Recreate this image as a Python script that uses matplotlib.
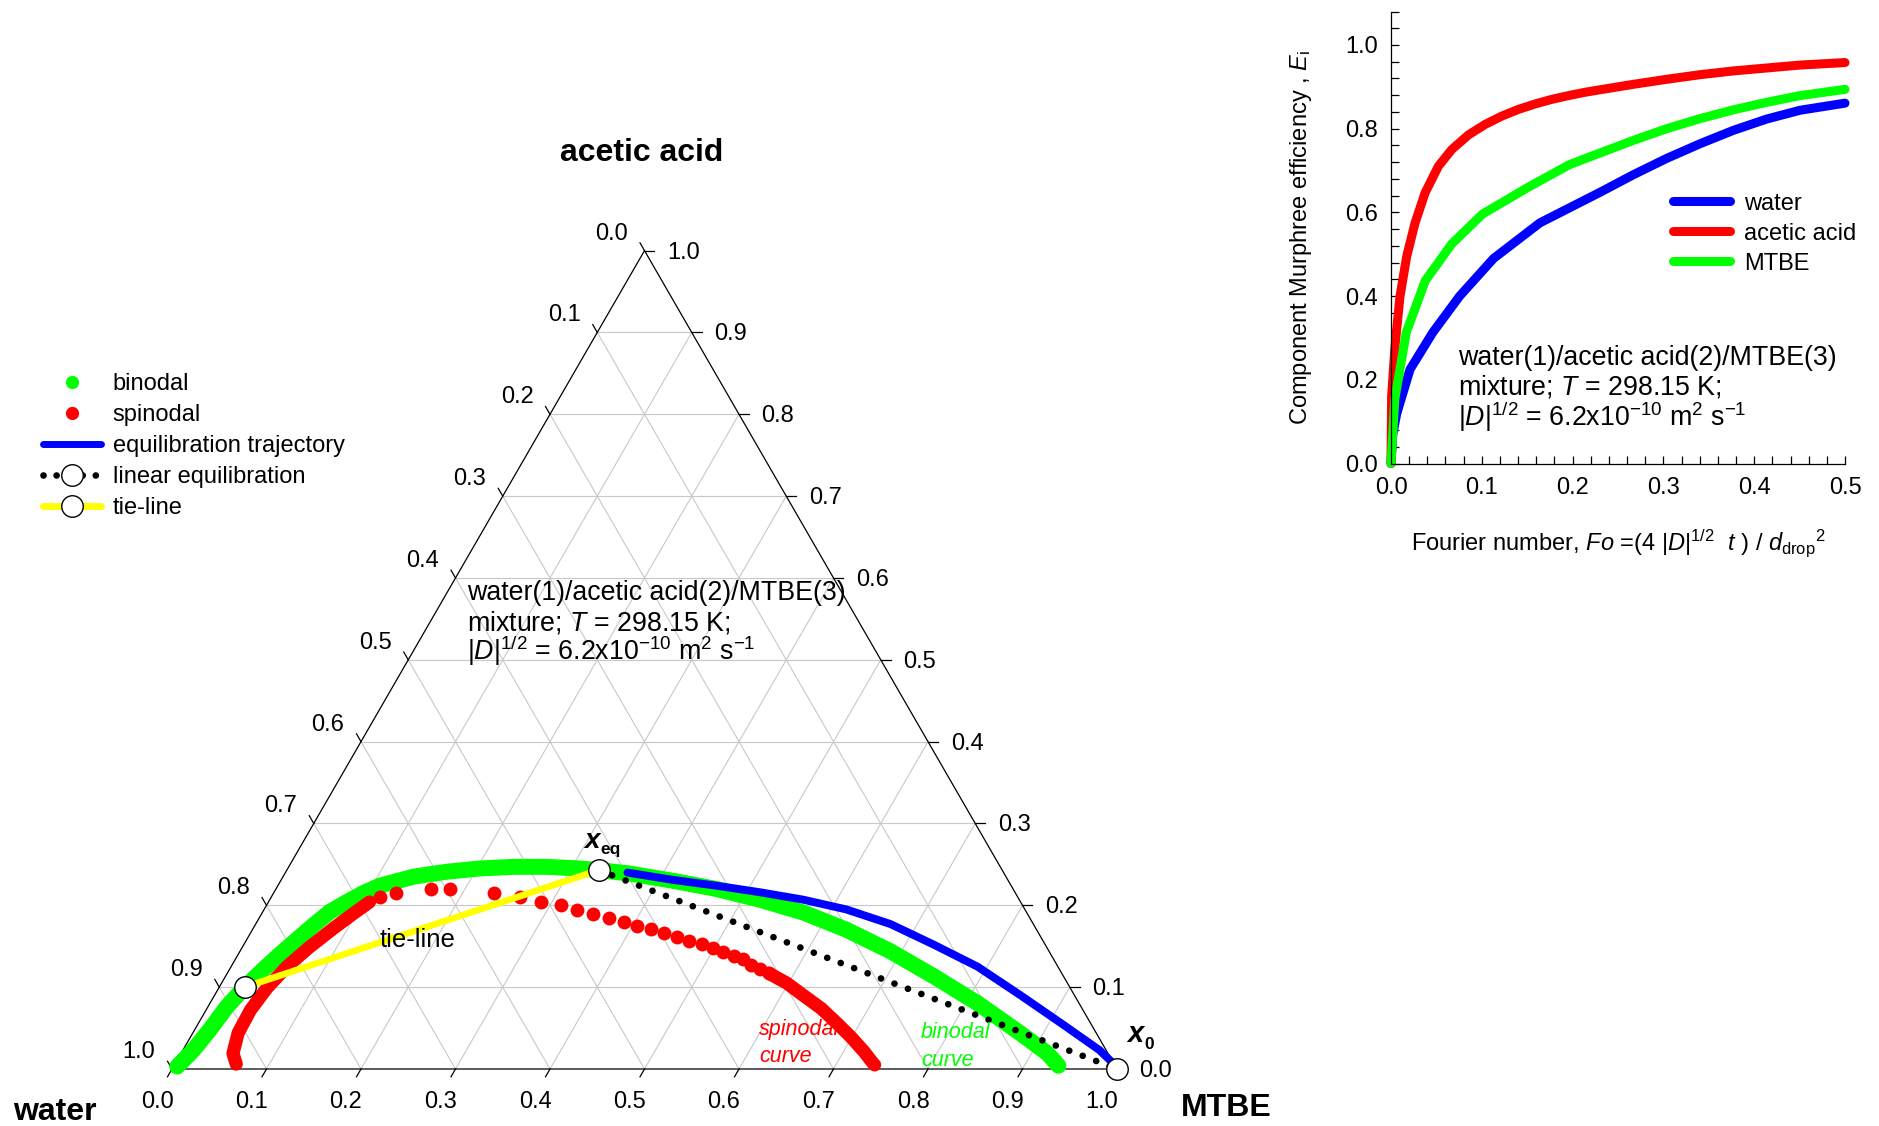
import numpy as np
import matplotlib.pyplot as plt
from matplotlib.lines import Line2D
from matplotlib.ticker import MultipleLocator, FormatStrFormatter

plt.rcParams['font.family'] = ['Liberation Sans', 'DejaVu Sans']
plt.rcParams['mathtext.fontset'] = 'custom'
plt.rcParams['mathtext.rm'] = 'Liberation Sans'
plt.rcParams['mathtext.it'] = 'Liberation Sans:italic'
plt.rcParams['mathtext.bf'] = 'Liberation Sans:bold'
plt.rcParams['mathtext.default'] = 'regular'

W, H = 1879, 1126
# triangle placement in pixels: lower-left vertex and side length
X0PX, Y0PX, SIDE = 172, 1069, 945

# ---- ternary data: x3 = MTBE, x2 = acetic acid ----
binodal_x3 = [0.004, 0.011, 0.016, 0.020, 0.027, 0.036, 0.044, 0.053, 0.062, 0.071,
              0.083, 0.095, 0.108, 0.138, 0.170, 0.203, 0.238, 0.273, 0.309, 0.330,
              0.364, 0.415, 0.466, 0.518, 0.573, 0.629, 0.688, 0.750, 0.813, 0.877,
              0.917, 0.936]
binodal_x2 = [0.003, 0.023, 0.048, 0.076, 0.100, 0.122, 0.140, 0.158, 0.176, 0.192,
              0.204, 0.215, 0.224, 0.235, 0.241, 0.245, 0.247, 0.247, 0.245, 0.243,
              0.239, 0.230, 0.220, 0.207, 0.191, 0.170, 0.144, 0.113, 0.080, 0.043,
              0.019, 0.004]

# spinodal: dense branch near water, separate points, dense branch near MTBE
spin_left_x3 = [0.065, 0.055, 0.048, 0.047, 0.051, 0.059, 0.071, 0.085, 0.097, 0.107]
spin_left_x2 = [0.006, 0.019, 0.044, 0.072, 0.099, 0.125, 0.149, 0.172, 0.190, 0.204]
spin_pts_x3 = [0.115, 0.130, 0.164, 0.184, 0.233, 0.263, 0.289, 0.312, 0.332, 0.351,
               0.370, 0.388, 0.405, 0.421, 0.438, 0.454, 0.469, 0.484, 0.498, 0.512,
               0.526, 0.537, 0.549, 0.561, 0.573]
spin_pts_x2 = [0.210, 0.215, 0.220, 0.220, 0.215, 0.210, 0.204, 0.200, 0.194, 0.189,
               0.185, 0.180, 0.175, 0.171, 0.166, 0.161, 0.157, 0.153, 0.148, 0.143,
               0.138, 0.134, 0.127, 0.122, 0.117]
spin_right_x3 = [0.573, 0.598, 0.623, 0.650, 0.677, 0.699, 0.722, 0.736, 0.741]
spin_right_x2 = [0.117, 0.105, 0.090, 0.074, 0.055, 0.039, 0.021, 0.009, 0.005]

traj_x3 = [0.362, 0.415, 0.464, 0.514, 0.564, 0.616, 0.672, 0.730, 0.790, 0.853,
           0.918, 0.970, 0.991, 1.0]
traj_x2 = [0.240, 0.231, 0.224, 0.216, 0.207, 0.195, 0.177, 0.152, 0.125, 0.090,
           0.053, 0.023, 0.008, 0.0]

xeq = (0.330, 0.243)
xtie = (0.027, 0.100)
x0 = (1.0, 0.0)

# ---- Murphree efficiencies vs Fourier number ----
fo_water = [0, 0.002, 0.0063, 0.021, 0.046, 0.0756, 0.113, 0.164, 0.2302, 0.2669,
            0.3036, 0.3403, 0.377, 0.4137, 0.4504, 0.5]
E_water = [0, 0.07, 0.119, 0.225, 0.313, 0.40, 0.49, 0.575, 0.648, 0.690,
           0.729, 0.764, 0.796, 0.823, 0.844, 0.861]
fo_acid = [0, 0.0007, 0.0044, 0.0099, 0.0173, 0.0264, 0.0374, 0.0521, 0.0668, 0.0852,
           0.1035, 0.1219, 0.1402, 0.1586, 0.177, 0.1953, 0.2137, 0.2302, 0.2669, 0.3036,
           0.3403, 0.377, 0.4137, 0.4504, 0.5]
E_acid = [0, 0.161, 0.280, 0.399, 0.495, 0.574, 0.646, 0.710, 0.750, 0.785,
          0.810, 0.830, 0.846, 0.859, 0.870, 0.879, 0.887, 0.893, 0.906, 0.918,
          0.929, 0.938, 0.945, 0.952, 0.958]
fo_mtbe = [0, 0.0042, 0.0168, 0.0378, 0.067, 0.1008, 0.151, 0.1964, 0.2302, 0.2669,
           0.3036, 0.3403, 0.377, 0.4137, 0.4504, 0.5]
E_mtbe = [0, 0.154, 0.313, 0.437, 0.525, 0.596, 0.660, 0.714, 0.742, 0.772,
          0.800, 0.824, 0.845, 0.863, 0.879, 0.894]

GREEN, RED, BLUE, YELLOW = '#00ff00', '#ff0000', '#0000ff', '#ffff00'
S3 = np.sqrt(3) / 2


def tern(x3, x2):
    x3 = np.asarray(x3, float)
    x2 = np.asarray(x2, float)
    return x3 + x2 / 2, x2 * S3


def pxd(dx, dy):
    # pixel offset -> ternary axes units (dy positive = up)
    return dx / SIDE, dy / SIDE


fig = plt.figure(figsize=(W / 100, H / 100), dpi=100)
ax = fig.add_axes([0, 0, 1, 1])
ax.set_xlim(-X0PX / SIDE, (W - X0PX) / SIDE)
ax.set_ylim(-(H - Y0PX) / SIDE, Y0PX / SIDE)
ax.axis('off')

# grid
for k in range(1, 10):
    f = k / 10
    for a, b in [((0, f), (1 - f, f)), ((f, 0), (f, 1 - f)), ((1 - f, 0), (0, 1 - f))]:
        xs, ys = tern([a[0], b[0]], [a[1], b[1]])
        ax.plot(xs, ys, color='#c8c8c8', lw=0.8, zorder=1)

xs, ys = tern([0, 1, 0, 0], [0, 0, 1, 0])
ax.plot(xs, ys, color='black', lw=0.9, zorder=2)

# ticks and tick labels on the three sides
L = 9 / SIDE
fs_tick = 17
for k in range(11):
    f = k / 10
    lab = f'{f:.1f}'
    bx, by = tern(f, 0)
    ax.plot([bx, bx - 0.5 * L], [by, by - S3 * L], color='black', lw=0.9)
    ox, oy = pxd(-15, -33)
    ax.text(bx + ox, by + oy, lab, ha='center', va='center', fontsize=fs_tick)
    lx, ly = tern(0, 1 - f)
    ax.plot([lx, lx - 0.5 * L], [ly, ly + S3 * L], color='black', lw=0.9)
    ox, oy = pxd(-33, 17)
    ax.text(lx + ox, ly + oy, lab, ha='center', va='center', fontsize=fs_tick)
    rx, ry = tern(1 - f, f)
    ax.plot([rx, rx + L * 1.1], [ry, ry], color='black', lw=0.9)
    ox, oy = pxd(39, -2)
    ax.text(rx + ox, ry + oy, lab, ha='center', va='center', fontsize=fs_tick)

# curves
bx, by = tern(binodal_x3, binodal_x2)
ax.plot(bx, by, color=GREEN, lw=11.5, solid_capstyle='round', solid_joinstyle='round', zorder=3)
sx, sy = tern(spin_left_x3, spin_left_x2)
ax.plot(sx, sy, color=RED, lw=9.5, solid_capstyle='round', solid_joinstyle='round', zorder=4)
sx, sy = tern(spin_right_x3, spin_right_x2)
ax.plot(sx, sy, color=RED, lw=9.5, solid_capstyle='round', solid_joinstyle='round', zorder=4)
sx, sy = tern(spin_pts_x3, spin_pts_x2)
ax.plot(sx, sy, 'o', color=RED, ms=10, mew=0, zorder=4)

ex, ey = tern([xeq[0], x0[0]], [xeq[1], x0[1]])
ax.plot(ex, ey, color='black', lw=4.8, dashes=(0.01, 2.15), dash_capstyle='round', zorder=5)
tx, ty = tern(traj_x3, traj_x2)
ax.plot(tx, ty, color=BLUE, lw=5.7, solid_capstyle='round', zorder=6)
yx, yy = tern([xtie[0], xeq[0]], [xtie[1], xeq[1]])
ax.plot(yx, yy, color=YELLOW, lw=4.8, solid_capstyle='butt', zorder=7)

cx, cy = tern([xtie[0], xeq[0], x0[0]], [xtie[1], xeq[1], x0[1]])
ax.plot(cx, cy, 'o', ms=15.5, mfc='white', mec='black', mew=1.0, zorder=8, clip_on=False)


def ptext(x, y, s, **kw):
    # place text at figure pixel position (origin top-left)
    fig.text(x / W, 1 - y / H, s, **kw)


ptext(642, 153, 'acetic acid', ha='center', va='center', fontsize=23, fontweight='bold')
ptext(55, 1112, 'water', ha='center', va='center', fontsize=23, fontweight='bold')
ptext(1226, 1108, 'MTBE', ha='center', va='center', fontsize=23, fontweight='bold')

ptext(592, 848, 'x', ha='center', va='baseline', fontsize=20, fontweight='bold', style='italic')
ptext(600, 854, 'eq', ha='left', va='baseline', fontsize=12.5, fontweight='bold')
ptext(1135, 1042, 'x', ha='center', va='baseline', fontsize=21, fontweight='bold', style='italic')
ptext(1144, 1049, '0', ha='left', va='baseline', fontsize=12.5, fontweight='bold')

ptext(418, 940, 'tie-line', ha='center', va='center', fontsize=18.5)
ptext(759, 1030, 'spinodal', ha='left', va='center', fontsize=15.5, color=RED, style='italic')
ptext(759, 1057, 'curve', ha='left', va='center', fontsize=15.5, color=RED, style='italic')
ptext(921, 1033, 'binodal', ha='left', va='center', fontsize=15.5, color=GREEN, style='italic')
ptext(921, 1060, 'curve', ha='left', va='center', fontsize=15.5, color=GREEN, style='italic')

info = ['water(1)/acetic acid(2)/MTBE(3)',
        r'mixture; $\mathit{T}$ = 298.15 K;',
        r'|$\mathit{D}$|$^{1/2}$ = 6.2x10$^{-10}$ m$^{2}$ s$^{-1}$']
for line, yb in zip(info, [600, 630, 660]):
    ptext(467, yb, line, ha='left', va='baseline', fontsize=19.3)

# legend of the ternary diagram
handles = [
    Line2D([], [], ls='none', marker='o', ms=9.5, color=GREEN, mew=0),
    Line2D([], [], ls='none', marker='o', ms=9.5, color=RED, mew=0),
    Line2D([], [], color=BLUE, lw=5, solid_capstyle='round'),
    Line2D([], [], color='black', lw=4.8, dashes=(0.01, 1.95), dash_capstyle='round',
           marker='o', ms=15.5, mfc='white', mec='black', mew=1.0),
    Line2D([], [], color=YELLOW, lw=5, solid_capstyle='round',
           marker='o', ms=15.5, mfc='white', mec='black', mew=1.0),
]
labels = ['binodal', 'spinodal', 'equilibration trajectory', 'linear equilibration', 'tie-line']
fig.legend(handles, labels, loc='upper left', bbox_to_anchor=(43 / W, 1 - 373 / H),
           frameon=False, fontsize=17, handlelength=2.45, handletextpad=0.5,
           labelspacing=0.38, borderpad=0, borderaxespad=0, numpoints=1)

# ---- efficiency plot ----
ax2 = fig.add_axes([1391 / W, (H - 463.5) / H, 454 / W, 452 / H])
ax2.plot(fo_water, E_water, color=BLUE, lw=6.5, solid_capstyle='round', clip_on=False, label='water')
ax2.plot(fo_acid, E_acid, color=RED, lw=6.5, solid_capstyle='round', clip_on=False, label='acetic acid')
ax2.plot(fo_mtbe, E_mtbe, color=GREEN, lw=6.5, solid_capstyle='round', clip_on=False, label='MTBE')
ax2.set_xlim(0, 0.5)
ax2.set_ylim(0, 1.08)
ax2.spines['top'].set_visible(False)
ax2.spines['right'].set_visible(False)
for s in ['left', 'bottom']:
    ax2.spines[s].set_linewidth(0.9)
ax2.set_xticks(np.arange(0, 0.51, 0.1))
ax2.set_yticks(np.arange(0, 1.01, 0.2))
ax2.xaxis.set_minor_locator(MultipleLocator(0.02))
ax2.yaxis.set_minor_locator(MultipleLocator(0.04))
ax2.xaxis.set_major_formatter(FormatStrFormatter('%.1f'))
ax2.yaxis.set_major_formatter(FormatStrFormatter('%.1f'))
ax2.tick_params(which='both', direction='in', length=6, width=0.9, labelsize=17, pad=9.5)
ax2.set_xlabel(r'Fourier number, $\mathit{Fo}$ =(4 |$\mathit{D}$|$^{1/2}$  $\mathit{t}$ ) / '
               r'$\mathit{d}_{\mathrm{drop}}$$^{2}$', fontsize=17, va='center')
ax2.set_ylabel(r'Component Murphree efficiency , $\mathit{E}_{\mathrm{i}}$', fontsize=17, va='center')
ax2.xaxis.set_label_coords(0.5, (463.5 - 543) / 452)
ax2.yaxis.set_label_coords((1301 - 1391) / 454, 0.5)
ax2.legend(loc='upper left', bbox_to_anchor=(1673 / W, 1 - 192.5 / H), bbox_transform=fig.transFigure,
           frameon=False, fontsize=17, handlelength=2.4, handletextpad=0.6,
           labelspacing=0.34, borderpad=0, borderaxespad=0)
for line, yb in zip(info, [365, 395, 426]):
    ptext(1458, yb, line, ha='left', va='baseline', fontsize=19.3)

fig.savefig('out.png', dpi=100)
